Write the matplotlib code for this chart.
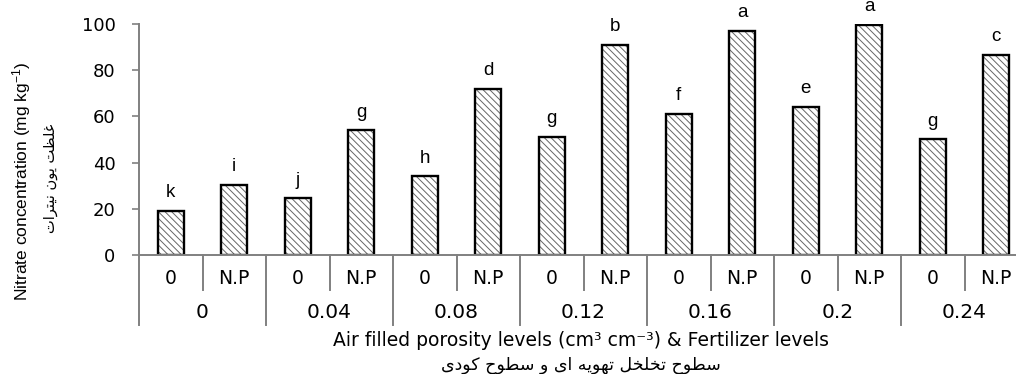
import numpy as np
import matplotlib
matplotlib.use("Agg")
import matplotlib.pyplot as plt

# nitrate concentration per air filled porosity level, without (0) and with fertilizer (N.P)
porosity_levels = ["0", "0.04", "0.08", "0.12", "0.16", "0.2", "0.24"]
fert_levels = ["0", "N.P"]
nitrate_0 = [19, 24.5, 34, 51, 61, 64, 50]
nitrate_np = [30.5, 54, 72, 91, 97, 99.5, 86.5]
letters_0 = ["k", "j", "h", "g", "f", "e", "g"]
letters_np = ["i", "g", "d", "b", "a", "a", "c"]

ylabel_en = "Nitrate concentration (mg kg$^{-1}$)"
ylabel_fa = "غلظت یون نیترات"
xlabel_en = "Air filled porosity levels (cm³ cm⁻³) & Fertilizer levels"
xlabel_fa = "سطوح تخلخل تهویه ای و سطوح کودی"

# contextual forms (isolated, final, initial, medial) for the persian letters used
FORMS = {
    "ا": ("\uFE8D", "\uFE8E", None, None),
    "ت": ("\uFE95", "\uFE96", "\uFE97", "\uFE98"),
    "ح": ("\uFEA1", "\uFEA2", "\uFEA3", "\uFEA4"),
    "خ": ("\uFEA5", "\uFEA6", "\uFEA7", "\uFEA8"),
    "د": ("\uFEA9", "\uFEAA", None, None),
    "ر": ("\uFEAD", "\uFEAE", None, None),
    "س": ("\uFEB1", "\uFEB2", "\uFEB3", "\uFEB4"),
    "ط": ("\uFEC1", "\uFEC2", "\uFEC3", "\uFEC4"),
    "ظ": ("\uFEC5", "\uFEC6", "\uFEC7", "\uFEC8"),
    "غ": ("\uFECD", "\uFECE", "\uFECF", "\uFED0"),
    "ل": ("\uFEDD", "\uFEDE", "\uFEDF", "\uFEE0"),
    "ن": ("\uFEE5", "\uFEE6", "\uFEE7", "\uFEE8"),
    "ه": ("\uFEE9", "\uFEEA", "\uFEEB", "\uFEEC"),
    "و": ("\uFEED", "\uFEEE", None, None),
    "ی": ("\uFBFC", "\uFBFD", "\uFBFE", "\uFBFF"),
    "ک": ("\uFB8E", "\uFB8F", "\uFB90", "\uFB91"),
}


def shape(text):
    out = []
    for i, ch in enumerate(text):
        if ch not in FORMS:
            out.append(ch)
            continue
        iso, fin, ini, med = FORMS[ch]
        prev = text[i - 1] if i > 0 else ""
        nxt = text[i + 1] if i + 1 < len(text) else ""
        join_prev = prev in FORMS and FORMS[prev][2] is not None
        join_next = ini is not None and nxt in FORMS
        if join_prev and join_next:
            out.append(med)
        elif join_prev:
            out.append(fin)
        elif join_next:
            out.append(ini)
        else:
            out.append(iso)
    return "".join(reversed(out))


plt.rcParams["font.family"] = ["DejaVu Sans"]
plt.rcParams["mathtext.default"] = "regular"
plt.rcParams["hatch.linewidth"] = 0.7

GREY = "#808080"
W, H = 1016, 374
fig = plt.figure(figsize=(W / 100, H / 100), dpi=100)
ax = fig.add_axes([139 / W, 1 - 255 / H, (1028 - 139) / W, 231 / H])

n = len(porosity_levels)
values = np.ravel(np.column_stack([nitrate_0, nitrate_np]))
letters = np.ravel(np.column_stack([letters_0, letters_np]))
x = np.arange(2 * n)

# hatched fill in grey, then the black outline on top
ax.bar(x, values, width=0.41, color="white", edgecolor="#666666",
       linewidth=0, hatch="\\\\\\\\\\", zorder=3)
ax.bar(x, values, width=0.41, fill=False, edgecolor="black",
       linewidth=1.7, zorder=4)

for xi, v, lt in zip(x, values, letters):
    ax.annotate(lt, (xi, v), xytext=(0, 7), textcoords="offset points",
                ha="center", va="bottom", fontsize=13.5,
                family="Liberation Sans")

ax.set_xlim(-0.5, 2 * n - 0.5)
ax.set_ylim(0, 100)
ax.set_yticks(np.arange(0, 101, 20))
ax.tick_params(axis="y", direction="out", length=5, width=1.2, color=GREY,
               pad=12, labelsize=13)
ax.set_xticks([])

for s in ["top", "right", "bottom"]:
    ax.spines[s].set_visible(False)
ax.spines["left"].set_color(GREY)
ax.spines["left"].set_linewidth(1.4)
ax.axhline(0, color=GREY, lw=1.4, clip_on=False, zorder=5)

# two-level category axis below the bars
tr = ax.get_xaxis_transform()
for i in range(2 * n):
    ax.text(i, -0.10, fert_levels[i % 2], transform=tr, ha="center",
            va="center", fontsize=13.5)
for g in range(n):
    ax.text(2 * g + 0.5, -0.25, porosity_levels[g], transform=tr,
            ha="center", va="center", fontsize=14.5)
    ax.plot([2 * g + 0.5] * 2, [0, -0.152], transform=tr, color=GREY,
            lw=1.4, clip_on=False)
    ax.plot([2 * g - 0.5] * 2, [0, -0.303], transform=tr, color=GREY,
            lw=1.4, clip_on=False)

fig.text(581 / W, 1 - 341 / H, xlabel_en, ha="center", va="center",
         fontsize=13.5)
fig.text(581 / W, 1 - 365 / H, shape(xlabel_fa), ha="center", va="center",
         fontsize=12.5)

fig.text(22 / W, 1 - 181 / H, ylabel_en, rotation=90, ha="center",
         va="center", fontsize=12.5, family="Liberation Sans")
fig.text(51 / W, 1 - 178 / H, shape(ylabel_fa), rotation=90, ha="center",
         va="center", fontsize=10.5)

fig.savefig("out.png", dpi=100)
